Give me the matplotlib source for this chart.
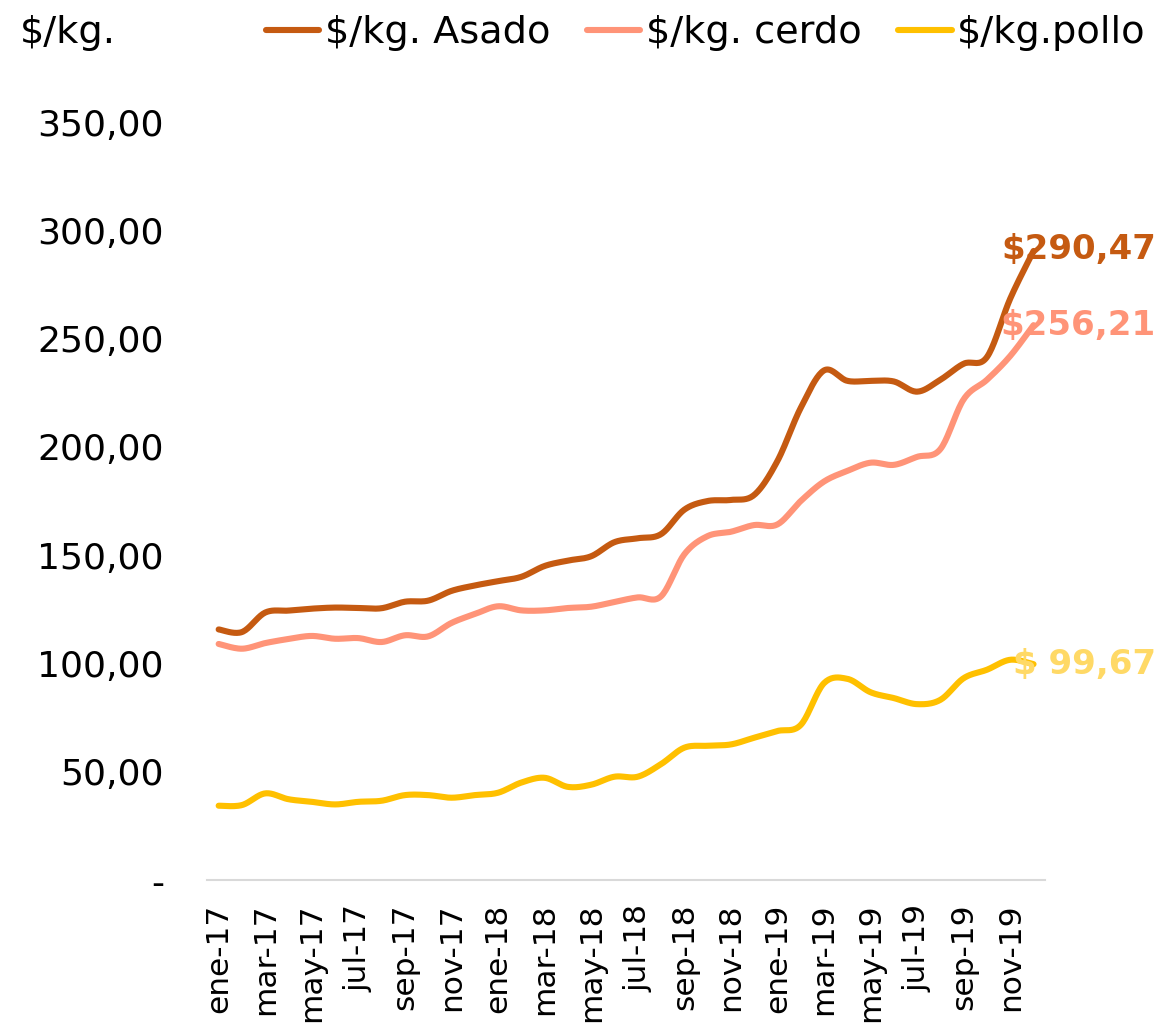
import numpy as np
import matplotlib
matplotlib.use('Agg')
import matplotlib.pyplot as plt

months = ['ene', 'feb', 'mar', 'abr', 'may', 'jun', 'jul', 'ago', 'sep', 'oct', 'nov', 'dic']
years = ['17', '18', '19']
categories = [f'{m}-{y}' for y in years for m in months]

asado = [115.7, 114.5, 123.5, 124.4, 125.3, 125.8, 125.6, 125.5, 128.5, 129.0, 133.5, 136.0,
         138.0, 140.0, 145.0, 147.5, 149.5, 156.0, 157.8, 159.7, 171.0, 175.0, 175.5, 177.8,
         193.5, 218.0, 235.3, 230.5, 230.5, 230.2, 225.5, 231.0, 238.4, 241.5, 268.5, 290.47]
cerdo = [109.0, 106.8, 109.4, 111.3, 112.7, 111.4, 111.7, 109.9, 113.0, 112.5, 118.7, 122.8,
         126.4, 124.5, 124.5, 125.6, 126.2, 128.4, 130.5, 131.0, 150.4, 158.8, 160.8, 163.9,
         164.2, 175.0, 184.0, 188.9, 192.7, 191.7, 195.4, 199.0, 222.0, 231.0, 242.0, 256.21]
pollo = [34.3, 34.6, 40.0, 37.3, 36.1, 34.9, 36.1, 36.6, 39.2, 39.2, 38.0, 39.2,
         40.3, 45.0, 47.2, 43.0, 44.0, 47.7, 47.7, 53.5, 61.1, 62.0, 62.6, 65.7,
         68.8, 71.6, 90.9, 92.9, 86.7, 84.0, 81.2, 83.2, 93.2, 97.1, 101.7, 99.67]

series_names = ['$/kg. Asado', '$/kg. cerdo', '$/kg.pollo']
series_colors = ['#C55A11', '#FF9478', '#FFC000']
label_colors = ['#C55A11', '#FF9478', '#FFD966']
end_labels = ['$290,47', '$256,21', '$ 99,67']
label_offsets = [(88, 1), (88, 0), (88, 0)]

yticks = [0, 50, 100, 150, 200, 250, 300, 350]
ytick_labels = ['-', '50,00', '100,00', '150,00', '200,00', '250,00', '300,00', '350,00']


def smooth(xs, ys, n=20):
    """Excel-style smoothed line (Bezier with 1/6 tangent) through the data points."""
    xs = np.asarray(xs, float)
    ys = np.asarray(ys, float)
    pts = np.column_stack([xs, ys])
    out = []
    m = len(pts)
    t = np.linspace(0, 1, n, endpoint=False)[:, None]
    for i in range(m - 1):
        p0 = pts[i - 1] if i > 0 else pts[i]
        p1 = pts[i]
        p2 = pts[i + 1]
        p3 = pts[i + 2] if i + 2 < m else pts[i + 1]
        c1 = p1 + (p2 - p0) / 6.0
        c2 = p2 - (p3 - p1) / 6.0
        seg = ((1 - t) ** 3) * p1 + 3 * ((1 - t) ** 2) * t * c1 + 3 * (1 - t) * t ** 2 * c2 + t ** 3 * p2
        out.append(seg)
    out.append(pts[-1][None, :])
    out = np.vstack(out)
    return out[:, 0], out[:, 1]


plt.rcParams['font.family'] = ['DejaVu Sans']

fig = plt.figure(figsize=(11.63, 10.29), dpi=100)
ax = fig.add_axes([0.178, 0.1448, 0.7207, 0.7366])

x = np.arange(len(categories))
for vals, name, col, lab, lcol, off in zip([asado, cerdo, pollo], series_names, series_colors,
                                           end_labels, label_colors, label_offsets):
    sx, sy = smooth(x, vals)
    ax.plot(sx, sy, color=col, lw=4.4, solid_capstyle='round', label=name)
    ax.annotate(lab, xy=(x[-1], vals[-1]), xytext=off, textcoords='offset points',
                ha='right', va='center', color=lcol, fontsize=24.5, fontweight='bold',
                annotation_clip=False)

ax.set_xlim(-0.5, len(categories) - 0.5)
ax.set_ylim(0, 350)
ax.set_yticks(yticks)
ax.set_yticklabels(ytick_labels)
ax.set_xticks(x[::2])
ax.set_xticklabels(categories[::2], rotation=90)
ax.tick_params(axis='y', length=0, pad=31, labelsize=26)
ax.tick_params(axis='x', length=0, pad=17, labelsize=22.5)
for s in ['top', 'right', 'left']:
    ax.spines[s].set_visible(False)
ax.spines['bottom'].set_color('#D9D9D9')
ax.spines['bottom'].set_linewidth(1.5)

fig.text(0.017, 0.968, '$/kg.', ha='left', va='center', fontsize=27.5)
fig.legend(loc='center', bbox_to_anchor=(0.607, 0.968), ncol=3, frameon=False,
           fontsize=27.5, handlelength=1.4, handletextpad=0.15, columnspacing=0.95,
           borderaxespad=0, borderpad=0)

fig.savefig('out.png', dpi=100)
